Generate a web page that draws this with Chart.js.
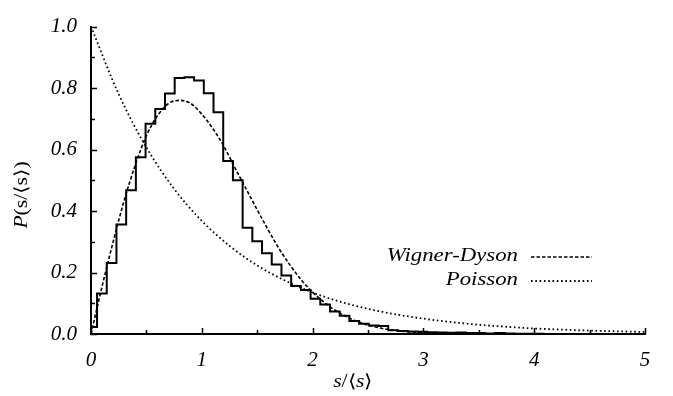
<!DOCTYPE html>
<html>
<head>
<meta charset="utf-8">
<script src="https://cdn.jsdelivr.net/npm/chart.js@4.4.1/dist/chart.umd.min.js"></script>
<style>
html, body { margin: 0; padding: 0; background: #fff; }
#wrap { width: 673px; height: 396px; position: relative; }
</style>
</head>
<body>
<div id="wrap"><canvas id="spacingChart"></canvas></div>
<script>
const xTicks = [0, 1, 2, 3, 4, 5];
const yTicks = [0, 0.2, 0.4, 0.6, 0.8, 1.0];

// histogram: the first bin is cut at s = 0, the rest share one width
const histFirstEdge = 0.0545;
const histBinWidth = 0.0876;
const histValues = [
    0.023, 0.132, 0.231, 0.356, 0.468, 0.575, 0.684, 0.732, 0.782, 0.833,
    0.835, 0.825, 0.783, 0.721, 0.563, 0.500, 0.346, 0.302, 0.263, 0.226,
    0.190, 0.156, 0.143, 0.115, 0.096, 0.073, 0.059, 0.042, 0.033, 0.028,
    0.026, 0.012, 0.010, 0.008, 0.007, 0.006, 0.005, 0.004, 0.005, 0.003,
    0.003, 0.002, 0.003, 0.002, 0.001, 0.001, 0.001, 0
];

const wignerS = [0, 0.1, 0.2, 0.3, 0.4, 0.5, 0.6, 0.7, 0.8, 0.9, 1.0, 1.1, 1.2, 1.3, 1.4,
    1.5, 1.6, 1.7, 1.8, 1.9, 2.0, 2.2, 2.4, 2.6, 2.8, 3.0, 3.3, 3.6, 4.0, 4.5, 5.0];
const wignerP = [0, 0.155, 0.30, 0.435, 0.55, 0.645, 0.71, 0.75, 0.76, 0.75, 0.715, 0.668, 0.61, 0.54, 0.472,
    0.404, 0.338, 0.276, 0.222, 0.175, 0.136, 0.078, 0.041, 0.020, 0.0095, 0.004, 0.001, 0.0003, 0.00005, 0, 0];

const poissonS = [0, 0.25, 0.5, 0.75, 1.0, 1.25, 1.5, 1.75, 2.0, 2.25, 2.5, 2.75, 3.0,
    3.25, 3.5, 3.75, 4.0, 4.25, 4.5, 4.75, 5.0];
const poissonP = [1.0, 0.78, 0.607, 0.472, 0.368, 0.287, 0.223, 0.174, 0.135, 0.105, 0.082, 0.064, 0.050,
    0.039, 0.030, 0.0235, 0.018, 0.0143, 0.011, 0.0087, 0.0067];

const serif = '"Liberation Serif", "Times New Roman", serif';

const histPoints = histValues.map((v, i) => ({
    x: i === 0 ? 0 : histFirstEdge + (i - 1) * histBinWidth,
    y: v
}));

function drawPieces(ctx, pieces, x, y, align, angle) {
    ctx.save();
    ctx.translate(x, y);
    ctx.rotate(angle);
    ctx.scale(1.2, 1);
    let total = 0;
    pieces.forEach(p => { ctx.font = p.font; total += ctx.measureText(p.text).width; });
    let cx = align === 'right' ? -total : align === 'center' ? -total / 2 : 0;
    ctx.textBaseline = 'middle';
    ctx.textAlign = 'left';
    ctx.fillStyle = '#000';
    pieces.forEach(p => {
        ctx.font = p.font;
        ctx.fillText(p.text, cx, 0);
        cx += ctx.measureText(p.text).width;
    });
    ctx.restore();
}

// inward ticks, axis titles and the key inside the plot
const decorations = {
    id: 'decorations',
    afterDatasetsDraw(chart) {
        const ctx = chart.ctx;
        const xs = chart.scales.x, ys = chart.scales.y;
        const area = chart.chartArea;
        ctx.save();
        ctx.strokeStyle = '#000';
        ctx.lineWidth = 1.5;
        ctx.beginPath();
        for (let i = 0; i <= 10; i++) {
            const py = Math.round(ys.getPixelForValue(i / 10)) + 0.5;
            const len = i % 2 === 0 ? 6 : 4;
            ctx.moveTo(area.left, py);
            ctx.lineTo(area.left + len, py);
        }
        for (let i = 0; i <= 10; i++) {
            const px = Math.round(xs.getPixelForValue(i / 2)) + 0.5;
            const len = i % 2 === 0 ? 6 : 4;
            ctx.moveTo(px, area.bottom);
            ctx.lineTo(px, area.bottom - len);
        }
        ctx.stroke();

        // key
        chart.data.datasets.forEach(ds => {
            if (!ds.keyY) return;
            drawPieces(ctx, [{ text: ds.label, font: 'italic 19px ' + serif }], 518, ds.keyY, 'right', 0);
            ctx.save();
            ctx.strokeStyle = ds.borderColor;
            ctx.lineWidth = ds.borderWidth;
            ctx.setLineDash(ds.borderDash);
            ctx.beginPath();
            ctx.moveTo(531, ds.keyY + 1);
            ctx.lineTo(592, ds.keyY + 1);
            ctx.stroke();
            ctx.restore();
        });

        // axis titles
        drawPieces(ctx, [
            { text: 's', font: 'italic 18px ' + serif },
            { text: '/\u27E8', font: '18px ' + serif },
            { text: 's', font: 'italic 18px ' + serif },
            { text: '\u27E9', font: '18px ' + serif }
        ], 353, 382, 'center', 0);
        drawPieces(ctx, [
            { text: 'P', font: 'italic 18px ' + serif },
            { text: '(s/\u27E8s\u27E9)', font: '18px ' + serif }
        ], 22, 195, 'center', -Math.PI / 2);
        ctx.restore();
    }
};

const chart = new Chart(document.getElementById('spacingChart').getContext('2d'), {
    type: 'line',
    data: {
        datasets: [
            {
                label: 'histogram',
                data: histPoints,
                stepped: true,
                borderColor: '#000',
                borderWidth: 2,
                pointRadius: 0,
                fill: false
            },
            {
                label: 'Wigner-Dyson',
                data: wignerS.map((s, i) => ({ x: s, y: wignerP[i] })),
                borderColor: '#000',
                borderWidth: 1.6,
                borderDash: [3.5, 2],
                cubicInterpolationMode: 'monotone',
                pointRadius: 0,
                fill: false,
                keyY: 256
            },
            {
                label: 'Poisson',
                data: poissonS.map((s, i) => ({ x: s, y: poissonP[i] })),
                borderColor: '#000',
                borderWidth: 1.8,
                borderDash: [1.6, 2.7],
                cubicInterpolationMode: 'monotone',
                pointRadius: 0,
                fill: false,
                keyY: 280
            }
        ]
    },
    options: {
        responsive: true,
        maintainAspectRatio: false,
        animation: false,
        layout: { padding: { left: 0, right: 28, top: 15, bottom: 0 } },
        plugins: {
            legend: { display: false },
            tooltip: { enabled: false }
        },
        scales: {
            x: {
                type: 'linear',
                min: 0,
                max: 5,
                afterFit: s => { s.height = 62; },
                afterBuildTicks: s => { s.ticks = xTicks.map(v => ({ value: v })); },
                grid: { display: false, drawTicks: false },
                border: { display: true, color: '#000', width: 2 },
                ticks: {
                    padding: 14,
                    color: '#000',
                    maxRotation: 0,
                    autoSkip: false,
                    font: { family: serif, style: 'italic', size: 21 },
                    callback: v => String(v)
                }
            },
            y: {
                type: 'linear',
                min: 0,
                max: 1,
                afterFit: s => { s.width = 91; },
                afterBuildTicks: s => { s.ticks = yTicks.map(v => ({ value: v })); },
                grid: { display: false, drawTicks: false },
                border: { display: true, color: '#000', width: 2 },
                ticks: {
                    padding: 14,
                    color: '#000',
                    autoSkip: false,
                    font: { family: serif, style: 'italic', size: 21 },
                    callback: v => v.toFixed(1)
                }
            }
        }
    },
    plugins: [decorations]
});
</script>
</body>
</html>
